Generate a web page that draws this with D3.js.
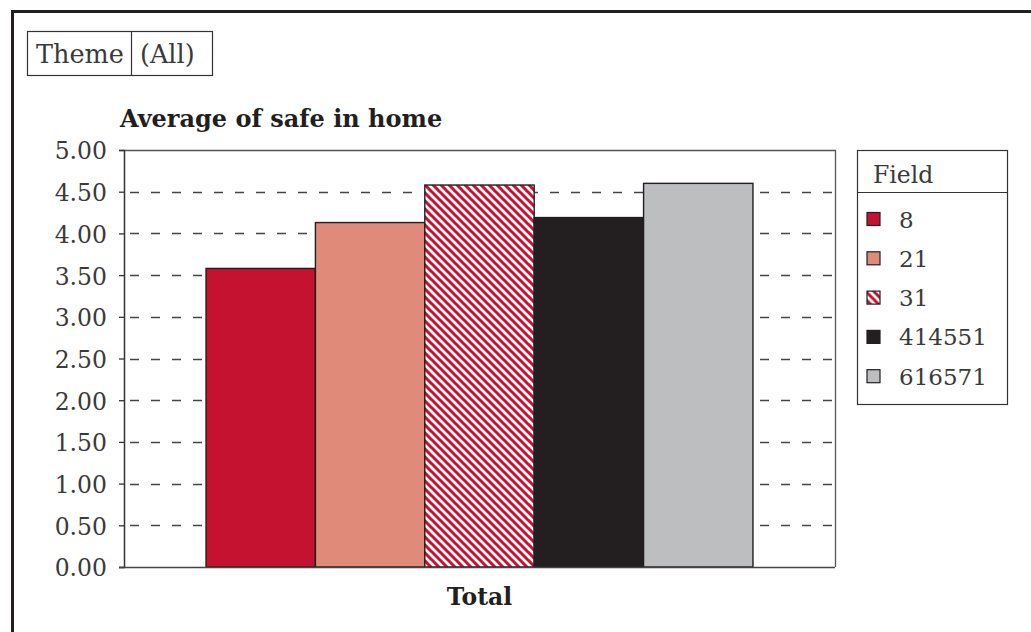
<!DOCTYPE html>
<html>
<head>
<meta charset="utf-8">
<script src="https://cdn.jsdelivr.net/npm/d3@7"></script>
<style>
  html, body { margin: 0; padding: 0; background: #fff; }
  svg { display: block; }
  text { font-family: "DejaVu Serif", "Liberation Serif", serif; fill: #3a3a3a; }
</style>
</head>
<body>
<svg id="chart" width="1031" height="632"></svg>
<script>
// Pivot chart data: average of "safe in home" per Field, one row ("Total")
const categories = ["Total"];
const fields = ["8", "21", "31", "414551", "616571"];
const values = [3.58, 4.13, 4.58, 4.19, 4.60];
const yTicks = [0, 0.5, 1, 1.5, 2, 2.5, 3, 3.5, 4, 4.5, 5];
const fieldColors = ["#C41230", "#E08A7A", "url(#stripes)", "#231F20", "#BCBEC0"];

const svg = d3.select("#chart");
const W = 1031, H = 632;
const plot = { left: 124, right: 835, top: 150, bottom: 567 };

// Red/white diagonal stripe fill
const defs = svg.append("defs");
const pat = defs.append("pattern")
  .attr("id", "stripes")
  .attr("patternUnits", "userSpaceOnUse")
  .attr("width", 8).attr("height", 8);
pat.append("rect").attr("width", 8).attr("height", 8).attr("fill", "#fff");
pat.append("path")
  .attr("d", "M-2,6 L2,10 M0,0 L8,8 M6,-2 L10,2")
  .attr("stroke", "#C41230").attr("stroke-width", 3).attr("fill", "none");

// Frame around the pivot chart
svg.append("path")
  .attr("d", `M${W},11.5 L12.5,11.5 L12.5,${H}`)
  .attr("fill", "none").attr("stroke", "#231F20").attr("stroke-width", 3);

// Report filter field box
const filt = svg.append("g");
filt.append("rect").attr("x", 27.5).attr("y", 31.5).attr("width", 185).attr("height", 44)
  .attr("fill", "#fff").attr("stroke", "#333").attr("stroke-width", 1.2);
filt.append("line").attr("x1", 131.5).attr("x2", 131.5).attr("y1", 31.5).attr("y2", 75.5)
  .attr("stroke", "#333").attr("stroke-width", 1.2);
filt.append("text").attr("x", 36).attr("y", 63).style("font-size", "25.5px").text("Theme");
filt.append("text").attr("x", 140).attr("y", 63).style("font-size", "25.5px").text("(All)");

// Title
svg.append("text").attr("x", 120).attr("y", 127)
  .style("font-size", "24px").style("font-weight", "bold").style("fill", "#231F20")
  .text("Average of safe in home");

// Scales
const y = d3.scaleLinear().domain([0, 5]).range([plot.bottom, plot.top]);
const x0 = d3.scaleBand().domain(categories).range([plot.left, plot.right])
  .paddingInner(0).paddingOuter(0.15);
const x1 = d3.scaleBand().domain(fields).range([0, x0.bandwidth()]).padding(0);

// Plot area border (top / right)
svg.append("path")
  .attr("d", `M${plot.left},${plot.top + 0.5} L${plot.right + 0.5},${plot.top + 0.5} L${plot.right + 0.5},${plot.bottom}`)
  .attr("fill", "none").attr("stroke", "#555").attr("stroke-width", 1.3);

// Dashed gridlines
svg.append("g").selectAll("line")
  .data(yTicks.filter(d => d > 0 && d < 5))
  .join("line")
  .attr("x1", plot.left).attr("x2", plot.right)
  .attr("y1", d => Math.round(y(d)) + 0.5).attr("y2", d => Math.round(y(d)) + 0.5)
  .attr("stroke", "#444").attr("stroke-width", 1.3)
  .attr("stroke-dasharray", "9,12").attr("stroke-dashoffset", -6);

// Bars
const bars = svg.append("g");
categories.forEach(cat => {
  bars.selectAll(null)
    .data(fields.map((f, i) => ({ f, v: values[i], c: fieldColors[i] })))
    .join("rect")
    .attr("x", d => x0(cat) + x1(d.f))
    .attr("y", d => y(d.v))
    .attr("width", x1.bandwidth())
    .attr("height", d => y(0) - y(d.v))
    .attr("fill", d => d.c)
    .attr("stroke", "#231F20").attr("stroke-width", 1.4);
});

// Y axis
const yAxis = svg.append("g")
  .attr("transform", `translate(${plot.left},0)`)
  .call(d3.axisLeft(y).tickValues(yTicks).tickFormat(d3.format(".2f")).tickSize(5).tickPadding(12));
yAxis.select(".domain").attr("stroke", "#333").attr("stroke-width", 1.5);
yAxis.selectAll(".tick line").attr("stroke", "#333").attr("stroke-width", 1.3);
yAxis.selectAll(".tick text")
  .style("font-size", "23.5px").style("font-family", "'DejaVu Serif', serif")
  .attr("fill", "#444").attr("dy", "0.38em");

// X axis baseline and category label
svg.append("line").attr("x1", plot.left - 5).attr("x2", plot.right)
  .attr("y1", plot.bottom + 0.5).attr("y2", plot.bottom + 0.5)
  .attr("stroke", "#444").attr("stroke-width", 1.5);
svg.selectAll(".cat").data(categories).join("text")
  .attr("class", "cat")
  .attr("x", d => x0(d) + x0.bandwidth() / 2).attr("y", 605)
  .attr("text-anchor", "middle")
  .style("font-size", "23.5px").style("font-weight", "bold").style("fill", "#231F20")
  .text(d => d);

// Legend
const lg = svg.append("g");
lg.append("rect").attr("x", 857.5).attr("y", 150.5).attr("width", 150).attr("height", 254)
  .attr("fill", "#fff").attr("stroke", "#333").attr("stroke-width", 1.2);
lg.append("line").attr("x1", 857.5).attr("x2", 1007.5).attr("y1", 192.5).attr("y2", 192.5)
  .attr("stroke", "#333").attr("stroke-width", 1.2);
lg.append("text").attr("x", 873).attr("y", 183).style("font-size", "23.5px").text("Field");
const rows = lg.selectAll(".row")
  .data(fields.map((f, i) => ({ f, c: fieldColors[i], i })))
  .join("g").attr("class", "row")
  .attr("transform", d => `translate(0,${219 + d.i * 39.3})`);
rows.append("rect").attr("x", 867).attr("y", -6.5).attr("width", 13).attr("height", 13)
  .attr("fill", d => d.c).attr("stroke", "#231F20").attr("stroke-width", 1.2);
rows.append("text").attr("x", 899).attr("y", 8.5).style("font-size", "23px").text(d => d.f);
</script>
</body>
</html>
